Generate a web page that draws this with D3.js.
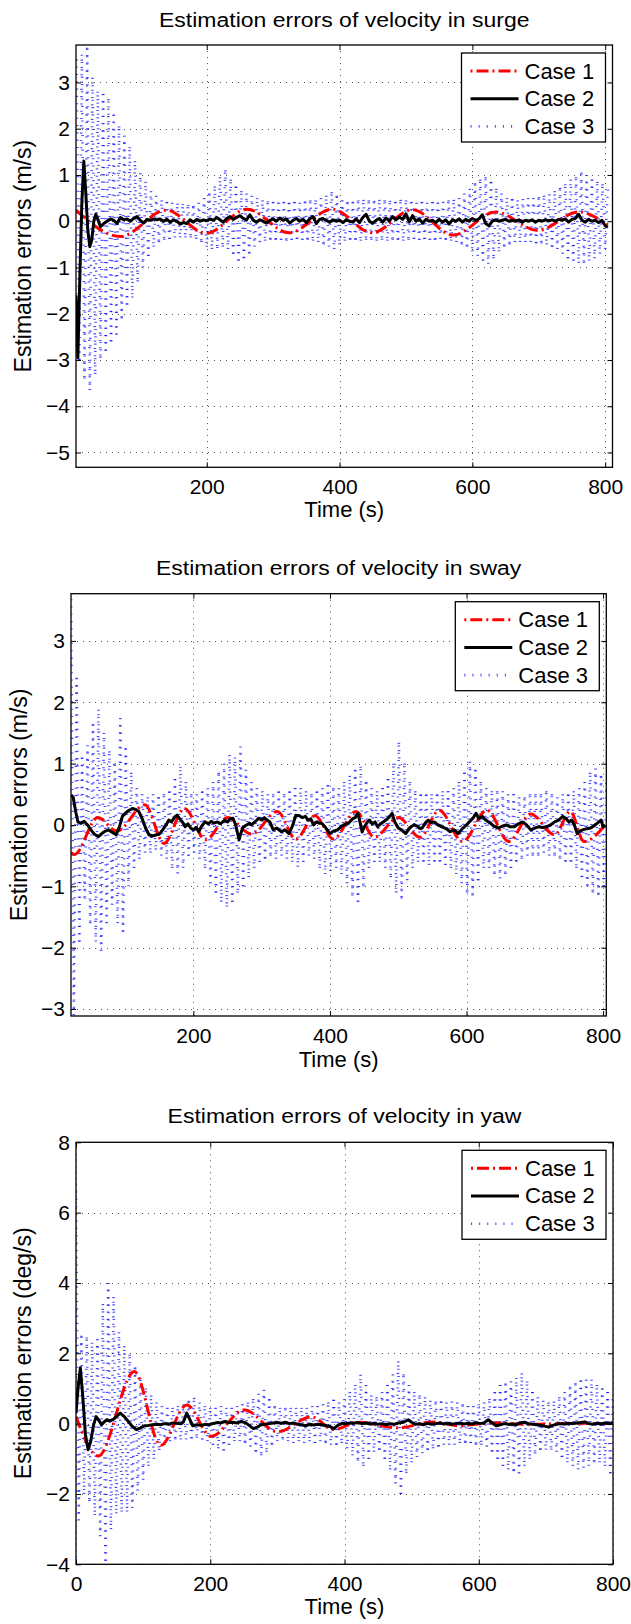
<!DOCTYPE html>
<html>
<head>
<meta charset="utf-8">
<script src="https://cdn.jsdelivr.net/npm/d3@7"></script>
<style>
  body { margin: 0; background: #fff; }
  svg text { font-family: "Liberation Sans", Arial, Helvetica, sans-serif; fill: #000; }
</style>
</head>
<body>
<svg id="fig" width="631" height="1624"></svg>
<script>
// ---------- data ----------
var legendLabels = ["Case 1", "Case 2", "Case 3"];

// tick values
var surgeXTicks = [200, 400, 600, 800];
var surgeYTicks = [-5, -4, -3, -2, -1, 0, 1, 2, 3];
var swayXTicks = [200, 400, 600, 800];
var swayYTicks = [-3, -2, -1, 0, 1, 2, 3];
var yawXTicks = [0, 200, 400, 600, 800];
var yawYTicks = [-4, -2, 0, 2, 4, 6, 8];

// Case 3 is sampled every 4 s (start time given per panel)
var case3Step = 4;

// ---- surge ----
var surgeCase1 = [[3.2,0.24],[70,-0.33],[139,0.24],[199,-0.26],[261,0.26],[324,-0.25],[389,0.26],[449,-0.25],
  [510,0.25],[571,-0.3],[635,0.2],[699,-0.2],[760,0.2],[804,-0.08]];
var surgeCase2 = [[3.2,-1.6],[6,-2.95],[9,-1.2],[12,0.4],[15,1.3],[18,0.6],[21,-0.2],[24,-0.55],[27,-0.4],[30,0.0],
  [33,0.15],[36,0.05],[40,-0.12],[45,-0.05],[50,0.0],[55,0.05],[60,0.02],[65,-0.05],[70,0.08],[75,0.03],[80,0.05],
  [85,0.0],[90,0.06],[95,0.1],[100,0.02],[105,-0.04],[110,0.04],[115,0.02],[120,0.05],[125,0.03],[130,0.05],[135,0.0],
  [140,0.04],[145,-0.02],[150,0.03],[155,0.0],[160,-0.06],[165,-0.03],[170,-0.05],[175,0.03],[180,-0.02],[185,0.04],
  [190,0.0],[195,0.03],[200,0.01],[205,0.05],[210,0.02],[215,0.08],[220,0.03],[225,-0.02],[230,0.06],[235,0.1],
  [240,0.04],[245,0.08],[250,0.12],[255,0.06],[260,0.03],[265,0.14],[270,0.02],[275,-0.02],[280,0.03],[285,0.0],
  [290,-0.04],[295,0.02],[300,0.05],[305,0.0],[310,0.07],[315,0.02],[320,0.05],[325,-0.04],[330,0.02],[335,0.06],
  [340,0.0],[345,0.04],[350,-0.03],[355,0.05],[360,0.1],[365,-0.05],[370,0.04],[375,0.06],[380,0.02],[385,-0.02],
  [390,0.03],[395,0.0],[400,0.02],[405,-0.03],[410,0.03],[415,0.0],[420,-0.02],[425,0.05],[430,-0.03],[435,0.08],
  [440,0.15],[445,0.0],[450,-0.04],[455,0.02],[460,0.06],[465,-0.02],[470,0.07],[475,0.0],[480,0.1],[485,0.03],
  [490,0.09],[495,0.04],[500,0.16],[505,-0.02],[510,0.12],[515,0.0],[520,0.05],[525,-0.04],[530,0.04],[535,0.0],
  [540,0.02],[545,-0.03],[550,0.04],[555,-0.02],[560,0.03],[565,-0.06],[570,0.03],[575,0.0],[580,0.05],[585,-0.02],
  [590,0.04],[595,0.0],[600,0.06],[605,0.02],[610,0.05],[615,0.14],[620,-0.05],[625,-0.1],[630,0.0],[635,0.03],
  [640,0.0],[645,0.02],[650,0.04],[655,0.0],[660,0.02],[665,0.0],[670,0.03],[675,-0.02],[680,0.02],[685,0.0],
  [690,0.03],[695,-0.02],[700,0.02],[705,0.0],[710,0.03],[715,0.01],[720,0.03],[725,0.0],[730,0.04],[735,0.02],
  [740,0.05],[745,-0.02],[750,0.04],[755,0.06],[760,0.15],[765,0.02],[770,-0.02],[775,0.04],[780,0.0],[785,0.02],
  [790,-0.03],[795,0.02],[800,-0.1],[804,-0.13]];
var surgeCase3Start = 4;
var surgeCase3 = [3.5,-3.0,3.6,-3.4,3.75,-3.65,3.1,-3.3,2.8,-2.95,2.75,-2.8,2.64,-2.6,2.3,-2.45,2.05,-2.1,1.85,-1.8,
  1.6,-1.65,1.3,-1.3,1.04,-1.0,0.85,-0.75,0.65,-0.55,0.55,-0.45,0.45,-0.4,0.42,-0.38,0.4,-0.35,0.38,-0.35,0.37,-0.35,
  0.35,-0.35,0.33,-0.38,0.4,-0.45,0.5,-0.55,0.6,-0.6,0.75,-0.58,0.95,-0.55,1.1,-0.6,0.9,-0.7,0.75,-0.85,0.65,-0.8,
  0.6,-0.7,0.55,-0.55,0.5,-0.45,0.45,-0.42,0.43,-0.4,0.42,-0.4,0.4,-0.4,0.42,-0.42,0.4,-0.4,0.42,-0.38,0.4,-0.4,
  0.43,-0.4,0.45,-0.42,0.45,-0.45,0.5,-0.5,0.55,-0.55,0.63,-0.6,0.55,-0.5,0.45,-0.42,0.42,-0.4,0.42,-0.4,0.45,-0.42,
  0.46,-0.4,0.45,-0.4,0.44,-0.42,0.46,-0.4,0.45,-0.42,0.44,-0.4,0.42,-0.4,0.46,-0.42,0.45,-0.4,0.42,-0.38,0.4,-0.4,
  0.42,-0.38,0.4,-0.4,0.42,-0.4,0.4,-0.38,0.42,-0.4,0.45,-0.42,0.46,-0.45,0.5,-0.5,0.6,-0.55,0.7,-0.65,0.82,-0.75,
  0.9,-0.85,0.95,-0.92,0.85,-0.8,0.7,-0.65,0.6,-0.55,0.5,-0.5,0.48,-0.45,0.45,-0.45,0.48,-0.45,0.5,-0.45,0.5,-0.48,
  0.52,-0.48,0.55,-0.5,0.58,-0.55,0.65,-0.6,0.72,-0.7,0.8,-0.8,0.9,-0.85,0.95,-0.9,1.05,-0.9,1.0,-0.85,0.9,-0.8,
  0.85,-0.7,0.8,-0.6,0.75];

// ---- sway ----
var swayCase1 = [[21,-0.45],[26,-0.48],[60,0.12],[88,-0.1],[129,0.33],[157,-0.3],[187,0.27],[218,-0.24],[250,0.12],
  [285,-0.15],[323,0.22],[350,-0.23],[378,0.15],[405,-0.23],[438,0.22],[465,-0.2],[500,0.12],[532,-0.2],[560,0.24],
  [594,-0.27],[630,0.24],[662,-0.27],[694,0.18],[729,-0.16],[752,0.22],[772,-0.27],[803,0.0]];
var swayCase2 = [[21,0.49],[24,0.45],[28,0.2],[31,0.05],[35,0.03],[40,0.06],[45,0.0],[50,-0.08],[55,-0.15],[61,-0.19],
  [66,-0.14],[71,-0.1],[76,-0.08],[81,-0.12],[87,-0.16],[92,-0.02],[96,0.14],[101,0.2],[106,0.24],[111,0.27],[116,0.25],
  [120,0.22],[125,0.1],[130,-0.05],[135,-0.16],[140,-0.18],[146,-0.16],[150,-0.15],[155,-0.08],[160,0.0],[164,0.08],
  [168,0.05],[172,0.12],[176,0.16],[180,0.1],[184,0.05],[188,-0.03],[192,0.02],[196,-0.05],[200,-0.08],[204,-0.04],
  [208,-0.11],[212,-0.02],[217,0.05],[222,0.02],[226,0.06],[230,0.03],[235,0.05],[240,0.02],[246,0.08],[250,0.05],
  [254,0.1],[258,0.11],[262,0.0],[265,-0.15],[267,-0.24],[270,-0.12],[273,-0.03],[278,0.0],[282,0.03],[285,0.0],
  [290,0.05],[296,0.11],[300,0.08],[304,0.12],[308,0.08],[312,0.05],[317,-0.08],[322,-0.05],[329,-0.11],[334,-0.08],
  [340,-0.14],[345,-0.02],[350,0.16],[355,0.15],[360,0.12],[364,0.14],[368,0.08],[372,0.1],[376,0.0],[380,0.05],
  [384,0.03],[388,0.03],[392,-0.02],[396,-0.08],[400,-0.14],[405,-0.1],[411,-0.08],[416,-0.03],[420,0.0],[425,0.02],
  [429,0.05],[433,0.1],[437,0.12],[441,0.19],[444,0.05],[447,-0.11],[451,-0.02],[455,0.05],[458,0.08],[462,0.02],
  [466,0.05],[470,-0.03],[474,0.02],[478,0.05],[482,0.08],[486,0.12],[491,0.19],[495,0.05],[500,-0.05],[505,-0.08],
  [511,-0.14],[516,-0.06],[520,-0.02],[523,0.0],[528,-0.02],[532,-0.06],[535,-0.05],[540,0.04],[544,0.08],[548,0.04],
  [553,0.05],[558,0.0],[564,-0.03],[570,-0.06],[576,-0.11],[582,-0.08],[588,-0.14],[594,-0.06],[600,0.0],[605,0.06],
  [610,0.12],[614,0.19],[618,0.1],[623,0.14],[628,0.08],[635,0.03],[640,-0.02],[647,-0.05],[652,-0.02],[658,0.0],
  [664,-0.03],[670,-0.03],[676,0.02],[682,0.05],[688,0.0],[694,-0.08],[700,-0.05],[705,-0.03],[711,-0.04],[717,-0.03],
  [723,0.0],[729,0.05],[735,0.08],[741,0.14],[746,0.1],[750,0.05],[754,0.08],[758,0.0],[762,-0.14],[766,-0.1],
  [770,-0.08],[776,-0.06],[782,-0.05],[788,0.0],[794,0.05],[797,0.08],[800,-0.03],[803,0.0]];
var swayCase3Start = 21;
var swayCase3 = [3.8,-3.1,2.4,-1.9,1.1,-1.2,1.3,-1.6,1.65,-1.9,1.88,-2.05,1.5,-1.6,1.2,-1.3,1.0,-1.6,1.74,-1.75,
  1.25,-1.0,0.85,-0.7,0.6,-0.55,0.5,-0.45,0.45,-0.45,0.5,-0.4,0.45,-0.5,0.5,-0.55,0.55,-0.7,0.75,-0.79,0.95,-0.7,
  0.7,-0.5,0.5,-0.45,0.5,-0.55,0.55,-0.7,0.6,-0.95,0.7,-1.1,0.85,-1.25,1.0,-1.33,1.14,-1.25,1.1,-1.1,1.28,-1.0,
  0.9,-0.85,0.7,-0.7,0.6,-0.6,0.55,-0.55,0.5,-0.5,0.5,-0.55,0.55,-0.5,0.5,-0.55,0.55,-0.6,0.6,-0.68,0.6,-0.6,
  0.55,-0.5,0.5,-0.55,0.55,-0.7,0.6,-0.8,0.65,-0.75,0.6,-0.7,0.6,-0.8,0.7,-0.95,0.8,-1.15,0.9,-1.25,0.95,-1.0,
  0.7,-0.7,0.6,-0.6,0.55,-0.6,0.6,-0.7,0.75,-0.85,1.0,-1.1,1.34,-1.2,1.0,-0.9,0.7,-0.7,0.55,-0.6,0.5,-0.6,0.5,-0.65,
  0.5,-0.6,0.5,-0.6,0.55,-0.65,0.55,-0.7,0.6,-0.8,0.7,-0.95,0.85,-1.1,1.03,-1.15,0.9,-0.9,0.7,-0.7,0.6,-0.7,
  0.55,-0.8,0.55,-0.87,0.55,-0.8,0.5,-0.7,0.5,-0.6,0.45,-0.55,0.45,-0.5,0.5,-0.5,0.5,-0.5,0.5,-0.45,0.55,-0.5,
  0.5,-0.5,0.45,-0.55,0.5,-0.6,0.5,-0.6,0.55,-0.7,0.6,-0.85,0.7,-1.0,0.85,-1.1,0.92,-1.14,0.8,-1.0,0.7];

// ---- yaw ----
var yawCase1 = [[0,0.2],[33,-0.92],[87,1.48],[126,-0.62],[165,0.53],[201,-0.36],[251,0.39],[300,-0.23],[351,0.19],
  [384,-0.17],[420,0.04],[480,-0.12],[533,0.05],[570,-0.06],[620,0.02],[680,-0.02],[740,0.01],[800,0.0]];
var yawCase2 = [[0,0.3],[3,1.0],[6.5,1.58],[10,0.8],[14,-0.3],[18,-0.74],[22,-0.5],[26,-0.05],[30,0.2],[34,0.1],
  [38,-0.03],[42,0.05],[46,0.11],[50,0.08],[55,0.11],[60,0.2],[66,0.3],[72,0.2],[78,0.06],[84,-0.08],[90,-0.17],
  [96,-0.12],[102,-0.06],[108,-0.05],[114,-0.03],[120,-0.02],[126,-0.03],[132,0.0],[138,-0.02],[144,0.02],[150,0.01],
  [156,0.0],[160,0.05],[165,0.3],[170,0.1],[174,-0.06],[180,-0.03],[186,-0.05],[192,-0.02],[198,-0.03],[204,0.0],
  [210,0.03],[216,0.02],[222,0.06],[228,0.03],[234,0.04],[240,0.02],[246,0.06],[252,0.03],[258,-0.05],[264,-0.14],
  [270,-0.1],[276,-0.03],[282,-0.02],[288,0.0],[294,0.02],[300,0.03],[306,0.01],[312,0.04],[318,0.0],[324,0.02],
  [330,-0.02],[336,-0.03],[342,-0.06],[348,-0.02],[354,-0.04],[360,-0.02],[366,-0.03],[372,-0.05],[378,-0.08],
  [384,-0.14],[390,-0.05],[396,0.01],[402,0.0],[408,0.02],[414,0.01],[420,0.03],[426,0.0],[432,0.02],[438,-0.01],
  [444,0.01],[450,-0.02],[456,0.0],[462,-0.03],[468,0.0],[474,-0.02],[480,0.02],[486,0.03],[490,0.06],[495,0.11],
  [500,0.04],[506,-0.02],[512,0.0],[518,-0.03],[524,0.01],[530,-0.02],[536,0.0],[542,0.02],[548,-0.01],[554,0.01],
  [560,-0.02],[566,0.0],[572,0.02],[578,-0.01],[584,0.01],[590,-0.01],[596,0.03],[602,0.0],[608,0.02],[614,0.11],
  [620,0.02],[626,-0.06],[632,-0.03],[638,0.0],[644,-0.02],[650,-0.01],[656,-0.03],[662,0.02],[668,0.04],[674,0.0],
  [680,-0.02],[686,-0.03],[692,-0.05],[698,-0.07],[704,-0.1],[710,-0.05],[716,-0.02],[722,0.0],[728,-0.01],[734,0.01],
  [740,0.0],[746,0.02],[752,0.03],[758,0.05],[764,0.0],[770,-0.02],[776,0.01],[782,-0.01],[788,0.02],[794,0.0],[800,0.01]];
var yawCase3Start = 0;
var yawCase3 = [6.6,-2.75,2.5,-2.0,2.45,-2.2,2.3,-2.6,2.4,-3.2,3.4,-3.9,4.0,-3.0,3.6,-2.55,2.6,-2.5,2.2,-2.5,
  1.96,-2.4,1.6,-1.9,1.29,-1.6,1.0,-1.2,0.8,-1.0,0.6,-0.75,0.5,-0.6,0.45,-0.5,0.45,-0.45,0.5,-0.45,0.55,-0.45,
  0.65,-0.42,0.73,-0.4,0.6,-0.45,0.5,-0.5,0.45,-0.6,0.45,-0.7,0.5,-0.76,0.45,-0.6,0.45,-0.5,0.5,-0.5,0.55,-0.55,
  0.6,-0.65,0.7,-0.8,0.85,-0.9,0.96,-0.8,0.7,-0.6,0.5,-0.5,0.45,-0.45,0.45,-0.5,0.45,-0.55,0.45,-0.5,0.45,-0.55,
  0.45,-0.5,0.5,-0.55,0.5,-0.5,0.55,-0.55,0.6,-0.6,0.68,-0.6,0.6,-0.55,0.7,-0.7,0.9,-0.9,1.1,-1.05,1.39,-1.2,
  1.1,-1.0,0.8,-0.8,0.75,-0.75,0.9,-1.0,1.1,-1.3,1.4,-1.7,1.77,-2.0,1.4,-1.4,1.1,-1.1,0.9,-0.95,0.8,-0.84,
  0.75,-0.75,0.65,-0.7,0.63,-0.65,0.63,-0.6,0.6,-0.6,0.63,-0.6,0.6,-0.55,0.55,-0.55,0.5,-0.55,0.5,-0.6,0.55,-0.6,
  0.6,-0.65,0.7,-0.8,0.9,-1.0,1.1,-1.2,1.14,-1.3,1.2,-1.35,1.3,-1.41,1.43,-1.2,1.2,-1.0,0.9,-0.85,0.75,-0.75,
  0.65,-0.74,0.6,-0.74,0.63,-0.8,0.75,-0.95,0.9,-1.1,1.05,-1.2,1.15,-1.3,1.23,-1.25,1.25,-1.2,1.25,-1.1,1.1,-1.1,
  1.0,-1.2,0.9,-1.41,0.87];

// ---------- layout ----------
var panels = [
  { id: "surge", title: "Estimation errors of velocity in surge", ylabel: "Estimation errors (m/s)",
    left: 76, right: 612.5, top: 45, bottom: 467.3, xDomain: [3.2, 811], yDomain: [-5.32, 3.81],
    xTicks: surgeXTicks, yTicks: surgeYTicks, c1: surgeCase1, c2: surgeCase2, c3: surgeCase3, c3Start: surgeCase3Start,
    titleY: 27, xlabelY: 517, ylabelX: 31 },
  { id: "sway", title: "Estimation errors of velocity in sway", ylabel: "Estimation errors (m/s)",
    left: 71, right: 606.3, top: 593.7, bottom: 1016, xDomain: [20.8, 804.7], yDomain: [-3.114, 3.77],
    xTicks: swayXTicks, yTicks: swayYTicks, c1: swayCase1, c2: swayCase2, c3: swayCase3, c3Start: swayCase3Start,
    titleY: 575.3, xlabelY: 1066.7, ylabelX: 27 },
  { id: "yaw", title: "Estimation errors of velocity in yaw", ylabel: "Estimation errors (deg/s)",
    left: 76, right: 613, top: 1142.3, bottom: 1564.3, xDomain: [0, 800], yDomain: [-4, 8],
    xTicks: yawXTicks, yTicks: yawYTicks, c1: yawCase1, c2: yawCase2, c3: yawCase3, c3Start: yawCase3Start,
    titleY: 1122.6, xlabelY: 1614.3, ylabelX: 31 }
];

var styles = [
  { color: "#ff0000", width: 3, dash: "12,4,2,4", opacity: 1 },    // Case 1 dash-dot
  { color: "#000000", width: 3, dash: null, opacity: 1 },          // Case 2 solid
  { color: "#0000ff", width: 2.6, dash: "1.1,6.2", opacity: 0.7 }  // Case 3 dotted
];

var svg = d3.select("#fig");

function styleLine(sel, s) {
  sel.attr("fill", "none")
    .attr("stroke", s.color)
    .attr("stroke-width", s.width)
    .attr("stroke-dasharray", s.dash)
    .attr("stroke-opacity", s.opacity)
    .attr("stroke-linejoin", "round");
  return sel;
}

function drawPanel(p) {
  var x = d3.scaleLinear().domain(p.xDomain).range([p.left, p.right]);
  var y = d3.scaleLinear().domain(p.yDomain).range([p.bottom, p.top]);
  var g = svg.append("g");

  svg.append("clipPath").attr("id", "clip-" + p.id)
    .append("rect")
    .attr("x", p.left).attr("y", p.top)
    .attr("width", p.right - p.left).attr("height", p.bottom - p.top);

  // dotted grid
  var grid = g.append("g").attr("stroke", "#555").attr("stroke-width", 1).attr("stroke-dasharray", "1,5");
  grid.selectAll(".gx").data(p.xTicks).enter().append("line")
    .attr("x1", function(d) { return Math.round(x(d)) + 0.5; })
    .attr("x2", function(d) { return Math.round(x(d)) + 0.5; })
    .attr("y1", p.top).attr("y2", p.bottom);
  grid.selectAll(".gy").data(p.yTicks).enter().append("line")
    .attr("y1", function(d) { return Math.round(y(d)) + 0.5; })
    .attr("y2", function(d) { return Math.round(y(d)) + 0.5; })
    .attr("x1", p.left).attr("x2", p.right);

  // series
  var plot = g.append("g").attr("clip-path", "url(#clip-" + p.id + ")");
  var straight = d3.line().x(function(d) { return x(d[0]); }).y(function(d) { return y(d[1]); });
  var smooth = d3.line().x(function(d) { return x(d[0]); }).y(function(d) { return y(d[1]); }).curve(d3.curveMonotoneX);

  // Case 3: each swing drawn on its own so the dot pattern restarts at every turn (as in the original export)
  var c3pts = p.c3.map(function(v, i) { return [p.c3Start + i * case3Step, v]; });
  var c3segs = d3.pairs(c3pts);
  styleLine(plot.append("g").selectAll("line").data(c3segs).enter().append("line")
    .attr("x1", function(d) { return x(d[0][0]); }).attr("y1", function(d) { return y(d[0][1]); })
    .attr("x2", function(d) { return x(d[1][0]); }).attr("y2", function(d) { return y(d[1][1]); }), styles[2]);
  styleLine(plot.append("path").datum(p.c1).attr("d", smooth), styles[0]);
  styleLine(plot.append("path").datum(p.c2).attr("d", straight), styles[1]);

  // axes, ticks inside on all four sides
  var fmt = d3.format("d");
  var axB = g.append("g").attr("transform", "translate(0," + p.bottom + ")")
    .call(d3.axisBottom(x).tickValues(p.xTicks).tickSize(-5).tickPadding(12).tickFormat(fmt));
  var axT = g.append("g").attr("transform", "translate(0," + p.top + ")")
    .call(d3.axisTop(x).tickValues(p.xTicks).tickSize(-5).tickFormat(""));
  var axL = g.append("g").attr("transform", "translate(" + p.left + ",0)")
    .call(d3.axisLeft(y).tickValues(p.yTicks).tickSize(-5).tickPadding(6).tickFormat(fmt));
  var axR = g.append("g").attr("transform", "translate(" + p.right + ",0)")
    .call(d3.axisRight(y).tickValues(p.yTicks).tickSize(-5).tickFormat(""));
  [axB, axT, axL, axR].forEach(function(a) {
    a.select(".domain").remove();
    a.attr("font-size", 21);
    a.selectAll(".tick line").attr("stroke", "#000").attr("stroke-width", 1);
  });

  // frame
  g.append("rect")
    .attr("x", p.left).attr("y", p.top)
    .attr("width", p.right - p.left).attr("height", p.bottom - p.top)
    .attr("fill", "none").attr("stroke", "#000").attr("stroke-width", 1.3);

  // title, axis labels
  g.append("text")
    .attr("transform", "translate(" + ((p.left + p.right) / 2) + "," + p.titleY + ") scale(1,0.87)")
    .attr("text-anchor", "middle").attr("font-size", 23)
    .text(p.title);
  g.append("text")
    .attr("x", (p.left + p.right) / 2).attr("y", p.xlabelY)
    .attr("text-anchor", "middle").attr("font-size", 22)
    .text("Time (s)");
  g.append("text")
    .attr("transform", "translate(" + p.ylabelX + "," + ((p.top + p.bottom) / 2) + ") rotate(-90)")
    .attr("text-anchor", "middle").attr("font-size", 23)
    .text(p.ylabel);

  // legend
  var lw = 144, lh = 89;
  var lg = g.append("g").attr("transform", "translate(" + (p.right - 7 - lw) + "," + (p.top + 8) + ")");
  lg.append("rect").attr("width", lw).attr("height", lh)
    .attr("fill", "#fff").attr("stroke", "#000").attr("stroke-width", 1.3);
  legendLabels.forEach(function(lab, i) {
    var ly = 18 + i * 27.7;
    var s = i === 2 ? { color: "#0000ff", width: 2.6, dash: "1.1,7", opacity: 0.7 } : styles[i];
    var sample = styleLine(lg.append("line").attr("x1", 9).attr("x2", 57).attr("y1", ly).attr("y2", ly), s);
    if (i === 0) sample.attr("stroke-dashoffset", 16);   // start the sample on the dot
    lg.append("text").attr("x", 63).attr("y", ly + 7.5).attr("font-size", 22).text(lab);
  });
}

panels.forEach(drawPanel);
</script>
</body>
</html>
